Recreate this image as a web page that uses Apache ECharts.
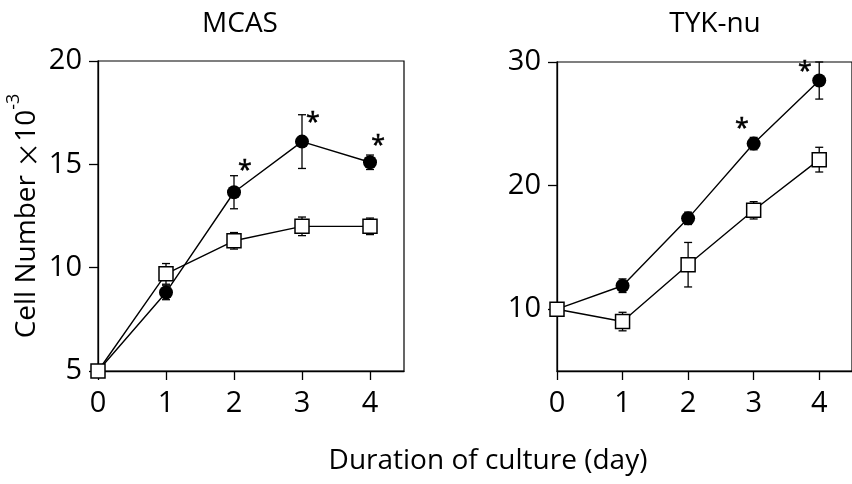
<!DOCTYPE html>
<html>
<head>
<meta charset="utf-8">
<script src="https://cdn.jsdelivr.net/npm/echarts@6/dist/echarts.min.js"></script>
<style>html,body{margin:0;padding:0;background:#fff}#c{width:852px;height:484px}</style>
</head>
<body>
<div id="c"></div>
<script>
const days = [0, 1, 2, 3, 4];
const xTicks = [0, 1, 2, 3, 4];
const mcasYTicks = [5, 10, 15, 20];
const tykYTicks = [10, 20, 30];

const mcasTreated = [5.0, 8.8, 13.65, 16.1, 15.1];
const mcasTreatedErr = [0, 0.35, 0.8, 1.3, 0.35];
const mcasControl = [5.0, 9.7, 11.3, 12.0, 12.0];
const mcasControlErr = [0, 0.5, 0.4, 0.45, 0.4];

const tykTreated = [10.0, 11.9, 17.35, 23.4, 28.5];
const tykTreatedErr = [0, 0.55, 0.5, 0.5, 1.5];
const tykControl = [10.0, 9.0, 13.6, 18.0, 22.1];
const tykControlErr = [0, 0.75, 1.8, 0.7, 1.0];

const mcasStars = [[2.16, 14.7], [3.16, 17.0], [4.12, 15.9]];
const tykStars = [[2.82, 24.6], [3.78, 29.2]];

const FONT = 'Open Sans';
const chart = echarts.init(document.getElementById('c'));

function pairs(vals) { return days.map((d, i) => [d, vals[i]]); }
function errData(vals, errs) {
  return days.map((d, i) => [d, vals[i], errs[i]]).filter(r => r[2] > 0);
}
function errorSeries(idx, vals, errs) {
  return {
    type: 'custom', xAxisIndex: idx, yAxisIndex: idx, z: 1,
    data: errData(vals, errs),
    renderItem: function (params, api) {
      const x = api.value(0), y = api.value(1), e = api.value(2);
      const t = api.coord([x, y + e]);
      const b = api.coord([x, y - e]);
      const hw = 4;
      const st = { stroke: '#000', lineWidth: 1.3 };
      return {
        type: 'group', children: [
          { type: 'line', shape: { x1: t[0], y1: t[1], x2: b[0], y2: b[1] }, style: st },
          { type: 'line', shape: { x1: t[0] - hw, y1: t[1], x2: t[0] + hw, y2: t[1] }, style: st },
          { type: 'line', shape: { x1: b[0] - hw, y1: b[1], x2: b[0] + hw, y2: b[1] }, style: st }
        ]
      };
    }
  };
}
function starSeries(idx, stars) {
  return {
    type: 'custom', xAxisIndex: idx, yAxisIndex: idx, z: 5,
    data: stars,
    renderItem: function (params, api) {
      const p = api.coord([api.value(0), api.value(1)]);
      return {
        type: 'text',
        style: { text: '*', x: p[0], y: p[1], align: 'center', verticalAlign: 'middle',
          font: '25px "' + FONT + '"', fill: '#000', stroke: '#000', lineWidth: 0.6 }
      };
    }
  };
}
function lineSeries(idx, vals, filled) {
  return {
    type: 'line', xAxisIndex: idx, yAxisIndex: idx, z: 3,
    data: pairs(vals),
    symbol: filled ? 'circle' : 'rect',
    symbolSize: 14,
    showAllSymbol: true,
    lineStyle: { color: '#000', width: 1.4 },
    itemStyle: filled ? { color: '#000', borderColor: '#000', borderWidth: 0 }
                      : { color: '#fff', borderColor: '#000', borderWidth: 1.5 },
    emphasis: { disabled: true },
    animation: false
  };
}
function xAx(idx) {
  return {
    type: 'value', gridIndex: idx, min: 0, max: 4.5,
    axisLine: { show: true, lineStyle: { color: '#000', width: 1.3 } },
    axisTick: { show: true, length: 9, customValues: xTicks, lineStyle: { color: '#000', width: 1.3 } },
    axisLabel: { customValues: xTicks, margin: 18, fontSize: 29, color: '#000', fontFamily: FONT },
    splitLine: { show: false }
  };
}
function yAx(idx, min, max, ticks, extra) {
  return Object.assign({
    type: 'value', gridIndex: idx, min: min, max: max,
    axisLine: { show: true, lineStyle: { color: '#000', width: 1.3 } },
    axisTick: { show: true, length: 9, customValues: ticks, lineStyle: { color: '#000', width: 1.3 } },
    axisLabel: { customValues: ticks, margin: 16, fontSize: 29, color: '#000', fontFamily: FONT },
    splitLine: { show: false }
  }, extra || {});
}

chart.setOption({
  animation: false,
  grid: [
    { left: 98, top: 61, width: 306, height: 310, show: true, borderColor: '#000', borderWidth: 1.2, backgroundColor: 'transparent' },
    { left: 557, top: 62, width: 304, height: 309, show: true, borderColor: '#000', borderWidth: 1.2, backgroundColor: 'transparent' }
  ],
  xAxis: [xAx(0), xAx(1)],
  yAxis: [
    yAx(0, 5, 20, mcasYTicks, {
      name: '{m|Cell Number }{x|×}{m|10}{s|-3}',
      nameLocation: 'middle', nameRotate: 90, nameGap: 57,
      nameTextStyle: {
        color: '#000', fontFamily: FONT,
        rich: {
          m: { fontSize: 28, fontFamily: FONT, color: '#000', lineHeight: 36, verticalAlign: 'bottom' },
          x: { fontSize: 26, fontFamily: 'Noto Sans CJK JP', color: '#000', lineHeight: 36, verticalAlign: 'bottom' },
          s: { fontSize: 18, fontFamily: FONT, color: '#000', lineHeight: 36, verticalAlign: 'top' }
        }
      }
    }),
    yAx(1, 5, 30, tykYTicks)
  ],
  graphic: [
    { type: 'text', x: 240, y: 24, style: { text: 'MCAS', align: 'center', verticalAlign: 'middle', font: '28px "' + FONT + '"', fill: '#000' } },
    { type: 'text', x: 715, y: 24, style: { text: 'TYK-nu', align: 'center', verticalAlign: 'middle', font: '28px "' + FONT + '"', fill: '#000' } },
    { type: 'text', x: 488, y: 461, style: { text: 'Duration of culture (day)', align: 'center', verticalAlign: 'middle', font: '28px "' + FONT + '"', fill: '#000' } }
  ],
  series: [
    errorSeries(0, mcasTreated, mcasTreatedErr),
    errorSeries(0, mcasControl, mcasControlErr),
    lineSeries(0, mcasTreated, true),
    lineSeries(0, mcasControl, false),
    starSeries(0, mcasStars),
    errorSeries(1, tykTreated, tykTreatedErr),
    errorSeries(1, tykControl, tykControlErr),
    lineSeries(1, tykTreated, true),
    lineSeries(1, tykControl, false),
    starSeries(1, tykStars)
  ]
});
</script>
</body>
</html>
